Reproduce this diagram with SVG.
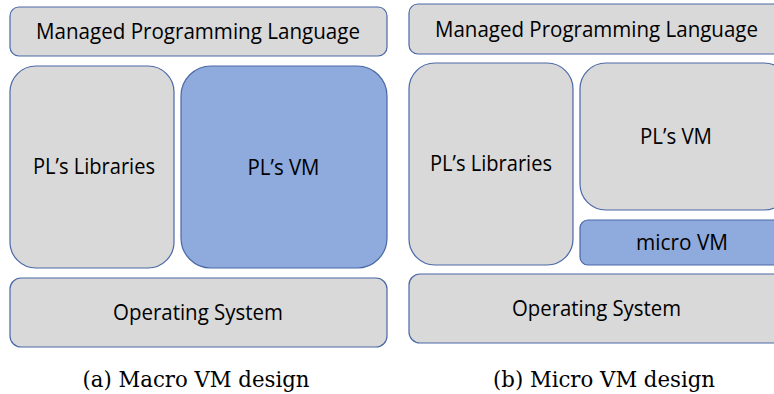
<svg xmlns="http://www.w3.org/2000/svg" width="774" height="394" viewBox="0 0 774 394">
<style>
.g{fill:#d9d9d9;stroke:#4a68a6;stroke-width:1.2}
.b{fill:#8faadc;stroke:#4a68a6;stroke-width:1.2}
.t{font-family:"Open Sans","Liberation Sans",sans-serif;font-size:21.5px;fill:#000;text-anchor:middle}
.c{font-family:"DejaVu Serif","Liberation Serif",serif;font-size:22px;fill:#000;text-anchor:middle}
</style>
<rect width="774" height="394" fill="#fff"/>
<g id="a-lang"><rect class="g" x="10" y="7" width="377" height="49" rx="9"/><text class="t" x="198" y="38.5" textLength="324" lengthAdjust="spacingAndGlyphs">Managed Programming Language</text></g>
<g id="a-libs"><rect class="g" x="10" y="66" width="164" height="202" rx="26"/><text class="t" x="94" y="173.5" textLength="122" lengthAdjust="spacingAndGlyphs">PL’s Libraries</text></g>
<g id="a-vm"><rect class="b" x="181" y="66" width="206" height="202" rx="30"/><text class="t" x="283.5" y="174.5" textLength="72" lengthAdjust="spacingAndGlyphs">PL’s VM</text></g>
<g id="a-os"><rect class="g" x="10" y="278" width="377" height="69" rx="11"/><text class="t" x="198" y="320" textLength="170" lengthAdjust="spacingAndGlyphs">Operating System</text></g>
<text class="c" x="196" y="386.7" textLength="227" lengthAdjust="spacingAndGlyphs">(a) Macro VM design</text>
<g id="b-lang"><rect class="g" x="409" y="4" width="380" height="50" rx="9"/><text class="t" x="596.5" y="36.8" textLength="323" lengthAdjust="spacingAndGlyphs">Managed Programming Language</text></g>
<g id="b-libs"><rect class="g" x="409" y="63" width="164" height="202" rx="26"/><text class="t" x="491" y="171" textLength="122" lengthAdjust="spacingAndGlyphs">PL’s Libraries</text></g>
<g id="b-vm"><rect class="g" x="580" y="63" width="210" height="147" rx="26"/><text class="t" x="676" y="144" textLength="72" lengthAdjust="spacingAndGlyphs">PL’s VM</text></g>
<g id="b-micro"><rect class="b" x="580" y="220" width="210" height="45" rx="8"/><text class="t" x="682" y="250" textLength="92" lengthAdjust="spacingAndGlyphs">micro VM</text></g>
<g id="b-os"><rect class="g" x="409" y="274" width="380" height="69" rx="11"/><text class="t" x="596.5" y="316" textLength="169" lengthAdjust="spacingAndGlyphs">Operating System</text></g>
<text class="c" x="604" y="386.7" textLength="222" lengthAdjust="spacingAndGlyphs">(b) Micro VM design</text>
<g id="connectors"/>
</svg>
